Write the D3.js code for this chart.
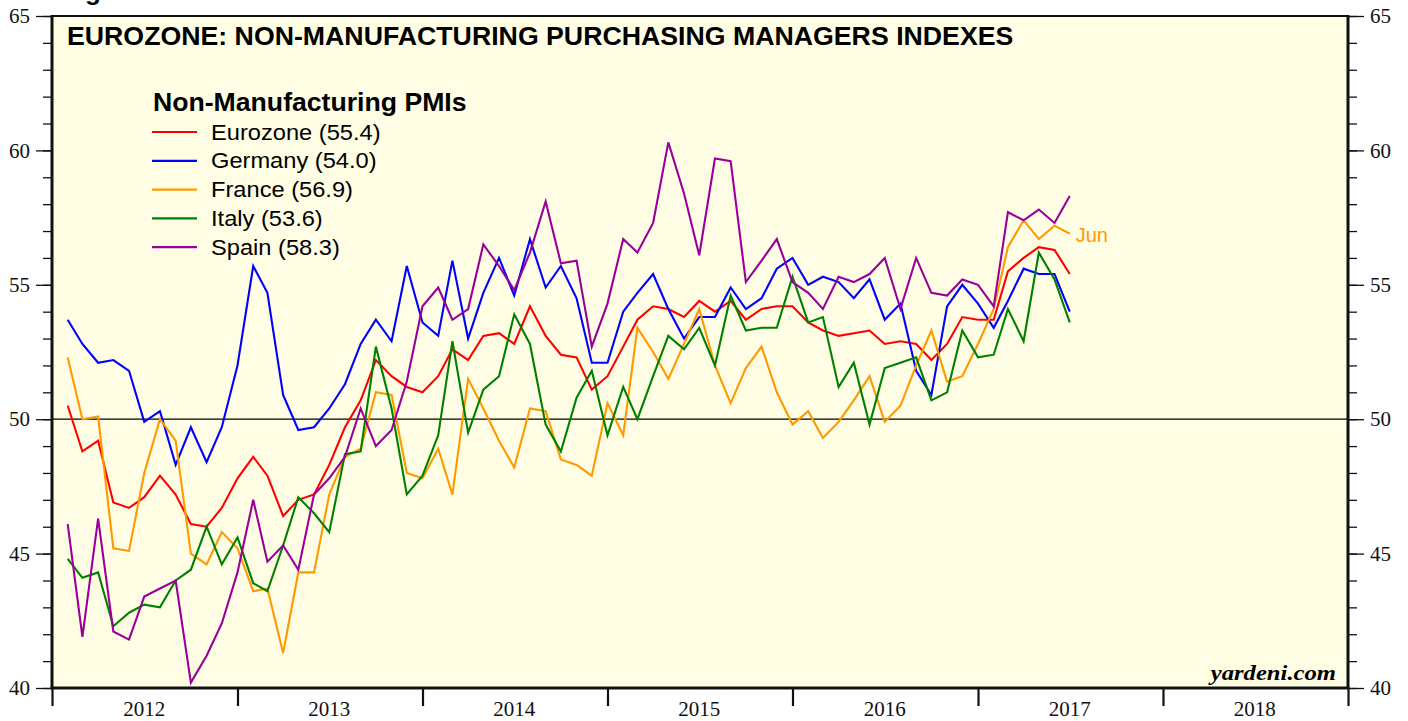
<!DOCTYPE html>
<html>
<head>
<meta charset="utf-8">
<script src="https://cdn.jsdelivr.net/npm/d3@7"></script>
<style>
  body { margin: 0; background: #fff; }
  svg { display: block; }
</style>
</head>
<body>
<script>
// monthly non-manufacturing PMIs, Jan 2012 .. Jun 2017
const eurozone = [
  50.5, 48.8, 49.2, 46.9, 46.7, 47.1, 47.9, 47.2, 46.1, 46.0, 46.7, 47.8,
  48.6, 47.9, 46.4, 47.0, 47.2, 48.3, 49.7, 50.7, 52.2, 51.6, 51.2, 51.0,
  51.6, 52.6, 52.2, 53.1, 53.2, 52.8, 54.2, 53.1, 52.4, 52.3, 51.1, 51.6,
  52.7, 53.7, 54.2, 54.1, 53.8, 54.4, 54.0, 54.4, 53.7, 54.1, 54.2, 54.2,
  53.6, 53.3, 53.1, 53.2, 53.3, 52.8, 52.9, 52.8, 52.2, 52.8, 53.8, 53.7,
  53.7, 55.5, 56.0, 56.4, 56.3, 55.4
]
const germany = [
  53.7, 52.8, 52.1, 52.2, 51.8, 49.9, 50.3, 48.3, 49.7, 48.4, 49.7, 52.0,
  55.7, 54.7, 50.9, 49.6, 49.7, 50.4, 51.3, 52.8, 53.7, 52.9, 55.7, 53.6,
  53.1, 55.9, 53.0, 54.7, 56.0, 54.6, 56.7, 54.9, 55.7, 54.5, 52.1, 52.1,
  54.0, 54.7, 55.4, 54.1, 53.0, 53.8, 53.8, 54.9, 54.1, 54.5, 55.6, 56.0,
  55.0, 55.3, 55.1, 54.5, 55.2, 53.7, 54.3, 51.8, 50.9, 54.2, 55.0, 54.3,
  53.4, 54.4, 55.6, 55.4, 55.4, 54.0
]
const france = [
  52.3, 50.0, 50.1, 45.2, 45.1, 48.0, 50.0, 49.2, 45.0, 44.6, 45.8, 45.2,
  43.6, 43.7, 41.3, 44.3, 44.3, 47.2, 48.6, 48.9, 51.0, 50.9, 48.0, 47.8,
  48.9, 47.2, 51.5, 50.4, 49.2, 48.2, 50.4, 50.3, 48.5, 48.3, 47.9, 50.6,
  49.4, 53.4, 52.5, 51.5, 52.8, 54.1, 52.0, 50.6, 51.9, 52.7, 51.0, 49.8,
  50.3, 49.3, 49.9, 50.7, 51.6, 49.9, 50.5, 52.0, 53.3, 51.4, 51.6, 52.8,
  54.1, 56.4, 57.4, 56.7, 57.2, 56.9
]
const italy = [
  44.8, 44.1, 44.3, 42.3, 42.8, 43.1, 43.0, 44.0, 44.4, 46.0, 44.6, 45.6,
  43.9, 43.6, 45.3, 47.1, 46.5, 45.8, 48.7, 48.8, 52.7, 50.4, 47.2, 47.9,
  49.4, 52.9, 49.5, 51.1, 51.6, 53.9, 52.8, 49.8, 48.8, 50.8, 51.8, 49.4,
  51.2, 50.0, 51.6, 53.1, 52.6, 53.4, 52.0, 54.6, 53.3, 53.4, 53.4, 55.3,
  53.6, 53.8, 51.2, 52.1, 49.8, 51.9, 52.1, 52.3, 50.7, 51.0, 53.3, 52.3,
  52.4, 54.1, 52.9, 56.2, 55.2, 53.6
]
const spain = [
  46.1, 41.9, 46.3, 42.1, 41.8, 43.4, 43.7, 44.0, 40.2, 41.2, 42.4, 44.3,
  47.0, 44.7, 45.3, 44.4, 47.2, 47.8, 48.6, 50.4, 49.0, 49.6, 51.4, 54.2,
  54.9, 53.7, 54.1, 56.5, 55.7, 54.8, 56.2, 58.1, 55.8, 55.9, 52.7, 54.3,
  56.7, 56.2, 57.3, 60.3, 58.4, 56.1, 59.7, 59.6, 55.1, 55.9, 56.7, 55.1,
  54.7, 54.1, 55.3, 55.1, 55.4, 56.0, 54.1, 56.0, 54.7, 54.6, 55.2, 55.0,
  54.2, 57.7, 57.4, 57.8, 57.3, 58.3
]

const seriesNames = ["Eurozone", "Germany", "France", "Italy", "Spain"]
const seriesColors = ["#ff0000", "#0000ff", "#ff9900", "#008000", "#990099"]
const seriesValues = [eurozone, germany, france, italy, spain]

const yearLabels = [2012, 2013, 2014, 2015, 2016, 2017, 2018]
const yMajorTicks = [40, 45, 50, 55, 60, 65]
const lastMonthLabel = "Jun"

const W = 1408, H = 721
const plot = {left: 52, right: 1348, top: 16, bottom: 688}

var svg = d3.select("body").append("svg")
    .attr("width", W)
    .attr("height", H)

var xScale = d3.scaleTime()
    .domain([new Date(2012, 0, 1), new Date(2019, 0, 1)])
    .range([plot.left, plot.right])

var yScale = d3.scaleLinear()
    .domain([40, 65])
    .range([plot.bottom, plot.top])

// values are plotted at month end
const monthDate = i => new Date(2012, i + 1, 1)

// stretch text a bit wider, the source is rendered wide
function stretch(sel, k) {
  sel.each(function() {
    const len = this.getComputedTextLength()
    d3.select(this).attr("textLength", len * k).attr("lengthAdjust", "spacingAndGlyphs")
  })
}

// figure caption, cropped at the top edge in the source
svg.append("text")
    .attr("x", 62)
    .attr("y", 0)
    .attr("font-family", "Liberation Sans, Arial, sans-serif")
    .attr("font-weight", "bold")
    .attr("font-size", "26px")
    .text("Figure 6.")

svg.append("rect")
    .attr("x", plot.left)
    .attr("y", plot.top)
    .attr("width", plot.right - plot.left)
    .attr("height", plot.bottom - plot.top)
    .attr("fill", "#fffee5")

// y axes, minor and major ticks
const serif = "Liberation Serif, Times New Roman, serif"

function yAxis(axisFn, xPos) {
  svg.append("g")
      .attr("transform", `translate(${xPos},0)`)
      .call(axisFn(yScale).tickValues(d3.range(40, 66)).tickSize(9).tickFormat(""))
      .call(g => g.select(".domain").remove())
      .call(g => g.selectAll("line").attr("stroke", "#111").attr("stroke-width", 1.3))

  svg.append("g")
      .attr("transform", `translate(${xPos},0)`)
      .call(axisFn(yScale).tickValues(yMajorTicks).tickSize(16).tickPadding(6))
      .call(g => g.select(".domain").remove())
      .call(g => g.selectAll("line").attr("stroke", "#111").attr("stroke-width", 1.3))
      .call(g => g.selectAll("text")
        .attr("font-family", serif)
        .attr("font-size", "21px")
        .attr("fill", "#111"))
}
yAxis(d3.axisLeft, plot.left)
yAxis(d3.axisRight, plot.right)

// x axis: year boundaries with labels in the middle
svg.append("g")
    .attr("transform", `translate(0,${plot.bottom})`)
    .call(d3.axisBottom(xScale)
      .tickValues(yearLabels.concat([2019]).map(yr => new Date(yr, 0, 1)))
      .tickSize(18)
      .tickFormat(""))
    .call(g => g.select(".domain").remove())
    .call(g => g.selectAll("line").attr("stroke", "#111").attr("stroke-width", 2.2))

svg.append("g").selectAll("text")
    .data(yearLabels)
    .join("text")
    .attr("x", d => xScale(new Date(d, 6, 1)))
    .attr("y", 716)
    .attr("text-anchor", "middle")
    .attr("font-family", serif)
    .attr("font-size", "21px")
    .attr("fill", "#111")
    .text(d => d)

// reference line at 50
svg.append("line")
    .attr("x1", plot.left).attr("x2", plot.right)
    .attr("y1", yScale(50)).attr("y2", yScale(50))
    .attr("stroke", "#000")
    .attr("stroke-width", 1.2)

// series
var line = d3.line()
    .x((d, i) => xScale(monthDate(i)))
    .y(d => yScale(d))

svg.append("g").selectAll("path")
    .data(seriesValues)
    .join("path")
    .attr("d", d => line(d))
    .attr("fill", "none")
    .attr("stroke", (d, i) => seriesColors[i])
    .attr("stroke-width", 2.1)
    .attr("stroke-linejoin", "miter")

// frame
svg.append("line").attr("x1", plot.left - 1.5).attr("x2", plot.right + 1.5)
    .attr("y1", plot.top).attr("y2", plot.top).attr("stroke", "#111").attr("stroke-width", 2.2)
svg.append("line").attr("x1", plot.left - 1.5).attr("x2", plot.right + 1.5)
    .attr("y1", plot.bottom).attr("y2", plot.bottom).attr("stroke", "#111").attr("stroke-width", 3)
svg.append("line").attr("x1", plot.left).attr("x2", plot.left)
    .attr("y1", plot.top).attr("y2", plot.bottom).attr("stroke", "#111").attr("stroke-width", 3)
svg.append("line").attr("x1", plot.right).attr("x2", plot.right)
    .attr("y1", plot.top).attr("y2", plot.bottom).attr("stroke", "#111").attr("stroke-width", 3)

const sans = "Liberation Sans, Arial, Helvetica, sans-serif"

svg.append("text")
    .attr("x", 67)
    .attr("y", 45)
    .attr("font-family", sans)
    .attr("font-weight", "bold")
    .attr("font-size", "25.5px")
    .attr("fill", "#000")
    .text("EUROZONE: NON-MANUFACTURING PURCHASING MANAGERS INDEXES")
    .call(stretch, 1.047)

// legend
var legend = svg.append("g")

legend.append("text")
    .attr("x", 153)
    .attr("y", 111)
    .attr("font-family", sans)
    .attr("font-weight", "bold")
    .attr("font-size", "25px")
    .text("Non-Manufacturing PMIs")
    .call(stretch, 1.065)

var rows = legend.selectAll("g.row")
    .data(seriesNames)
    .join("g")
    .attr("class", "row")
    .attr("transform", (d, i) => `translate(0,${132 + i * 28.8})`)

rows.append("line")
    .attr("x1", 152).attr("x2", 197)
    .attr("stroke", (d, i) => seriesColors[i])
    .attr("stroke-width", 2.2)

rows.append("text")
    .attr("x", 211)
    .attr("y", 7.5)
    .attr("font-family", sans)
    .attr("font-size", "21.5px")
    .attr("fill", "#000")
    .text((d, i) => `${d} (${d3.format(".1f")(seriesValues[i][seriesValues[i].length - 1])})`)
    .call(stretch, 1.1)

// last month tag next to France
svg.append("text")
    .attr("x", xScale(monthDate(france.length - 1)) + 6)
    .attr("y", yScale(france[france.length - 1]) + 8)
    .attr("font-family", sans)
    .attr("font-size", "20px")
    .attr("fill", "#ff9900")
    .text(lastMonthLabel)

svg.append("text")
    .attr("x", 1336)
    .attr("y", 680)
    .attr("text-anchor", "end")
    .attr("font-family", serif)
    .attr("font-weight", "bold")
    .attr("font-style", "italic")
    .attr("font-size", "22px")
    .attr("fill", "#000")
    .text("yardeni.com")
    .call(stretch, 1.12)
</script>
</body>
</html>
